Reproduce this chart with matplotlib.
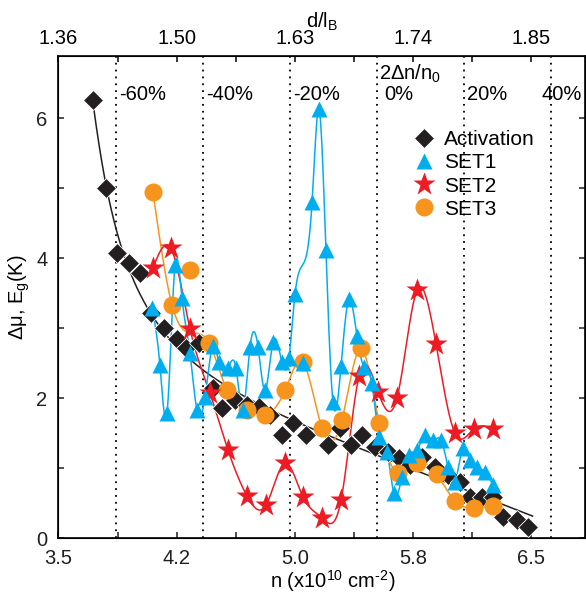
import numpy as np
import matplotlib
matplotlib.use("Agg")
import matplotlib.pyplot as plt

plt.rcParams['font.family'] = ['Liberation Sans', 'DejaVu Sans']
plt.rcParams['mathtext.fontset'] = 'custom'
plt.rcParams['mathtext.rm'] = 'Liberation Sans'
plt.rcParams['mathtext.it'] = 'Liberation Sans'
plt.rcParams['axes.unicode_minus'] = False

# data: n (1e10 cm^-2), energy (K)
act_n = [3.72, 3.80, 3.87, 3.95, 4.02, 4.09, 4.17, 4.25, 4.31, 4.39, 4.48, 4.54,
         4.62, 4.70, 4.77, 4.84, 4.92, 4.99, 5.07, 5.21, 5.29, 5.36, 5.43, 5.51,
         5.59, 5.66, 5.73, 5.81, 5.89, 5.97, 6.05, 6.11, 6.19, 6.26, 6.32, 6.41, 6.48]
act_e = [6.26, 5.00, 4.07, 3.93, 3.79, 3.21, 3.00, 2.84, 2.71, 2.79, 2.14, 1.86,
         1.97, 1.90, 1.87, 1.76, 1.47, 1.64, 1.47, 1.33, 1.57, 1.33, 1.47, 1.30,
         1.23, 1.14, 1.04, 1.16, 1.01, 0.90, 0.80, 0.59, 0.59, 0.59, 0.30, 0.26, 0.16]

set1_n = [4.094, 4.144, 4.189, 4.240, 4.284, 4.335, 4.379, 4.430, 4.481, 4.519,
          4.576, 4.627, 4.671, 4.716, 4.767, 4.811, 4.862, 4.919, 4.963, 5.002,
          5.052, 5.110, 5.154, 5.198, 5.243, 5.294, 5.344, 5.395, 5.440, 5.490,
          5.535, 5.586, 5.630, 5.681, 5.725, 5.776, 5.827, 5.878, 5.929, 5.973,
          6.017, 6.068, 6.113, 6.157, 6.208, 6.259]
set1_e = [3.29, 2.47, 1.79, 3.90, 3.43, 2.64, 1.83, 2.01, 2.74, 2.51,
          2.43, 2.43, 1.83, 2.73, 2.73, 2.11, 2.80, 2.51, 2.57, 3.49,
          2.50, 4.80, 6.13, 4.11, 1.94, 2.46, 3.41, 2.89, 2.44, 2.21,
          1.44, 1.23, 0.64, 0.87, 1.19, 1.26, 1.47, 1.40, 1.40, 1.01,
          0.80, 1.29, 1.11, 1.01, 0.94, 0.76]
set1_skip = [20]  # point not on the drawn curve

set2_n = [4.100, 4.214, 4.335, 4.462, 4.576, 4.697, 4.817, 4.938, 5.052, 5.173,
          5.294, 5.408, 5.529, 5.649, 5.776, 5.897, 6.017, 6.138, 6.259]
set2_e = [3.86, 4.14, 2.99, 2.07, 1.26, 0.60, 0.47, 1.07, 0.59, 0.29,
          0.54, 2.31, 2.09, 2.00, 3.54, 2.77, 1.50, 1.56, 1.56]

set3_n = [4.100, 4.221, 4.335, 4.456, 4.570, 4.697, 4.811, 4.938, 5.052, 5.173,
          5.300, 5.421, 5.535, 5.656, 5.776, 5.903, 6.017, 6.138, 6.259]
set3_e = [4.94, 3.33, 3.83, 2.79, 2.11, 1.83, 1.76, 2.11, 2.51, 1.57,
          1.69, 2.71, 1.64, 0.93, 1.07, 0.91, 0.53, 0.43, 0.46]
set3_skip = [2]

n0 = 5.52
pct = [-60, -40, -20, 0, 20, 40]
bottom_ticks = [3.5, 4.25, 5.0, 5.75, 6.5]
bottom_labels = ['3.5', '4.2', '5.0', '5.8', '6.5']
top_labels = ['1.36', '1.50', '1.63', '1.74', '1.85']

c_black = '#231f20'
c_blue = '#00aeef'
c_red = '#ed1c24'
c_orange = '#f7941d'


def spline(x, y, num=400):
    x = np.asarray(x, float)
    y = np.asarray(y, float)
    m = len(x)
    h = np.diff(x)
    A = np.zeros((m, m))
    r = np.zeros(m)
    A[0, 0] = 1
    A[-1, -1] = 1
    for i in range(1, m - 1):
        A[i, i - 1] = h[i - 1]
        A[i, i] = 2 * (h[i - 1] + h[i])
        A[i, i + 1] = h[i]
        r[i] = 3 * ((y[i + 1] - y[i]) / h[i] - (y[i] - y[i - 1]) / h[i - 1])
    c = np.linalg.solve(A, r)
    b = (y[1:] - y[:-1]) / h - h * (2 * c[:-1] + c[1:]) / 3
    d = (c[1:] - c[:-1]) / (3 * h)
    xs = np.linspace(x[0], x[-1], num)
    k = np.clip(np.searchsorted(x, xs) - 1, 0, m - 2)
    t = xs - x[k]
    ys = y[k] + b[k] * t + c[k] * t ** 2 + d[k] * t ** 3
    return xs, ys


def keep(a, skip):
    return [v for i, v in enumerate(a) if i not in skip]


fig = plt.figure(figsize=(5.86, 5.97), dpi=100)
ax = fig.add_axes([0.0998, 0.0988, 0.8985, 0.8074])

# dotted guides
for p in pct:
    ax.axvline(n0 * (1 + p / 200), color='k', lw=1.3, ls=(0, (1, 2.8)), zorder=1)

# activation fit
u = np.log(np.array(act_n) - 3.62)
coef = np.polyfit(u, act_e, 4)
nf = np.linspace(act_n[0], act_n[-1] + 0.03, 400)
ax.plot(nf, np.polyval(coef, np.log(nf - 3.62)), color=c_black, lw=1.1, zorder=2)
h0, = ax.plot(act_n, act_e, 'D', color=c_black, ms=10, mec='white', mew=0.6,
              zorder=3)

xs, ys = spline(keep(set3_n, set3_skip), keep(set3_e, set3_skip))
ax.plot(xs, ys, color=c_orange, lw=1.1, zorder=2)
h3, = ax.plot(set3_n, set3_e, 'o', color=c_orange, ms=13, mec='none', zorder=4)

xs, ys = spline(set2_n, set2_e)
ax.plot(xs, ys, color=c_red, lw=1.1, zorder=2)
h2, = ax.plot(set2_n, set2_e, '*', color=c_red, ms=17, mec='none', zorder=5)

xs, ys = spline(keep(set1_n, set1_skip), keep(set1_e, set1_skip))
ax.plot(xs, ys, color=c_blue, lw=1.1, zorder=2)
h1, = ax.plot(set1_n, set1_e, '^', color=c_blue, ms=12, mec='none', zorder=6)

ax.set_xlim(3.5, 6.843)
ax.set_ylim(0, 6.89)

ax.set_xticks(bottom_ticks)
ax.set_xticklabels(bottom_labels)
ax.set_xticks([3.875, 4.625, 5.375, 6.125], minor=True)
ax.set_yticks([0, 2, 4, 6])
ax.set_yticks([1, 3, 5], minor=True)
ax.tick_params(which='both', direction='in', length=4.5, width=1.1, top=False,
               right=True, labelsize=14.5, pad=8, colors=c_black)
for s in ax.spines.values():
    s.set_linewidth(1.2)

ax2 = ax.twiny()
ax2.set_xlim(ax.get_xlim())
ax2.set_xticks(bottom_ticks)
ax2.set_xticklabels(top_labels)
ax2.set_xticks([3.875, 4.625, 5.375, 6.125], minor=True)
ax2.tick_params(which='both', direction='in', length=4.5, width=1.1,
                labelsize=14.5, pad=6)
ax2.set_xlabel('d/l$_\\mathregular{B}$', fontsize=14.5, labelpad=1)

ax.set_xlabel('n (x10$^{\\mathregular{10}}$ cm$^{\\mathregular{\u20102}}$)',
              fontsize=14.5)
ax.xaxis.set_label_coords(0.52, -0.062)
ax.set_ylabel('\u0394\u03bc, E$_\\mathregular{g}$(K)', fontsize=14.5, labelpad=3)

# percentage labels
offs = [0.02, 0.02, 0.02, 0.05, 0.02, -0.06]
for p, o in zip(pct, offs):
    ax.text(n0 * (1 + p / 200) + o, 6.34, '%d%%' % p, fontsize=14.5,
            va='center', ha='left')
ax.text(n0 + 0.015, 6.64, '2\u0394n/n$_\\mathregular{0}$', fontsize=14.5,
        va='center', ha='left')

ax.legend(handles=[h0, h1, h2, h3],
          labels=['Activation', 'SET1', 'SET2', 'SET3'],
          loc='upper left', bbox_to_anchor=(0.674, 0.846), frameon=False,
          fontsize=15, handlelength=1.0, handletextpad=0.45, labelspacing=0.2,
          borderpad=0, borderaxespad=0)

fig.savefig('out.png', dpi=100)
